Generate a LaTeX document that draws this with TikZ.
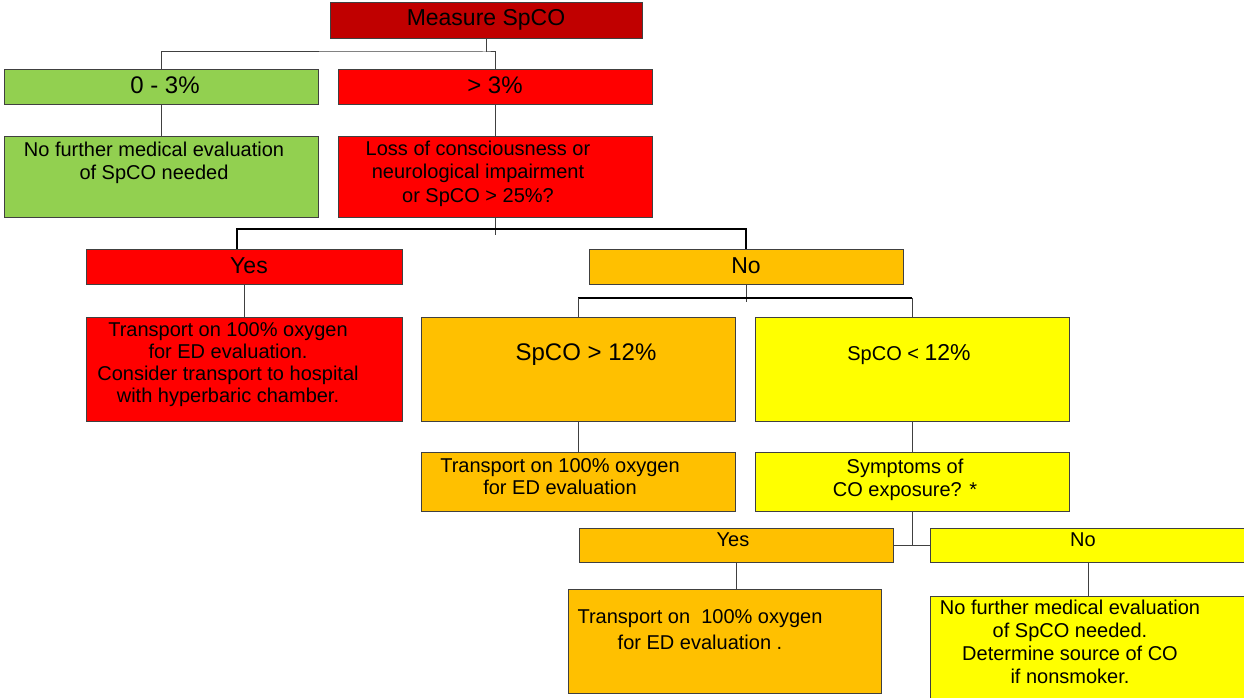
\documentclass[tikz,border=0pt]{standalone}
\usepackage{fontspec}
\setmainfont{Liberation Sans}
\definecolor{cdarkred}{RGB}{192,0,0}
\definecolor{cred}{RGB}{255,0,0}
\definecolor{cgreen}{RGB}{146,208,80}
\definecolor{corange}{RGB}{255,192,0}
\definecolor{cyellow}{RGB}{255,255,0}
\definecolor{cline}{RGB}{64,64,64}
\begin{document}
\begin{tikzpicture}[x=1pt,y=-1pt,
  box/.style={draw=cline,line width=0.8pt,inner sep=0pt,outer sep=0pt,minimum width=314pt},
  txt/.style={inner sep=0pt,outer sep=0pt,align=center,anchor=north,font=\fontsize{20}{23.5}\selectfont},
  head/.style={inner sep=0pt,outer sep=0pt,font=\fontsize{23}{27}\selectfont},
  small/.style={inner sep=0pt,outer sep=0pt,font=\fontsize{20}{24}\selectfont},
  thinline/.style={draw=cline,line width=1pt},
  thickline/.style={draw=black,line width=2pt}]
\path[use as bounding box,fill=white] (0,0) rectangle (1244,698);
% first level
\node[box,fill=cdarkred,minimum width=312pt,minimum height=36pt] (measure) at (486,20) {};
\node[head] (measuretxt) at (486,20) {Measure SpCO};
\node[box,fill=cgreen,minimum height=35pt] (low) at (161,86.5) {};
\node[head,font=\fontsize{24}{28}\selectfont] (lowtxt) at (165,85) {0 - 3\%};
\node[box,fill=cred,minimum height=35pt] (high) at (495,86.5) {};
\node[head,font=\fontsize{24}{28}\selectfont] (hightxt) at (495,85) {> 3\%};
\node[box,fill=cgreen,minimum height=81pt] (nofurther) at (161,176.5) {};
\node[txt] (nofurthertxt) at (154,142) {No further medical evaluation\\of SpCO needed};
\node[box,fill=cred,minimum height=81pt] (loss) at (495,176.5) {};
\node[txt] (losstxt) at (478,141) {Loss of consciousness or\\neurological impairment\\or SpCO > 25\%?};
% second level
\node[box,fill=cred,minimum width=316pt,minimum height=35pt] (yes1) at (244,266.5) {};
\node[head] (yes1txt) at (249,266) {Yes};
\node[box,fill=corange,minimum height=35pt] (no1) at (746,266.5) {};
\node[head] (no1txt) at (746,266) {No};
\node[box,fill=cred,minimum width=316pt,minimum height=104pt] (transport1) at (244,369) {};
\node[txt,font=\fontsize{20}{22}\selectfont] (transport1txt) at (228,323) {Transport on 100\% oxygen\\for ED evaluation.\\Consider transport to hospital\\with hyperbaric chamber.};
\node[box,fill=corange,minimum height=104pt] (high12) at (578,369) {};
\node[head,font=\fontsize{24}{28}\selectfont] (high12txt) at (586,355) {SpCO > 12\%};
\node[box,fill=cyellow,minimum height=104pt] (low12) at (912,369) {};
\node[head] (low12txt) at (909,355) {\fontsize{20}{24}\selectfont SpCO < \fontsize{23}{27}\selectfont 12\%};
\node[box,fill=corange,minimum height=59pt] (transport2) at (578,481.5) {};
\node[txt,font=\fontsize{20}{22}\selectfont] (transport2txt) at (560,459) {Transport on 100\% oxygen\\for ED evaluation};
\node[box,fill=cyellow,minimum height=59pt] (symptoms) at (912,481.5) {};
\node[txt] (symptomstxt) at (905,459) {Symptoms of\\CO exposure? *};
% third level
\node[box,fill=corange,minimum height=34pt] (yes2) at (736,545) {};
\node[small] (yes2txt) at (733,540) {Yes};
\node[box,fill=cyellow,minimum width=316pt,minimum height=34pt] (no2) at (1088,545) {};
\node[small] (no2txt) at (1083,540) {No};
\node[box,fill=corange,minimum width=313pt,minimum height=104pt] (transport3) at (724.5,641) {};
\node[txt,font=\fontsize{20}{26}\selectfont] (transport3txt) at (700,610) {Transport on\ \ 100\% oxygen\\for ED evaluation .};
\node[box,fill=cyellow,minimum width=316pt,minimum height=106pt] (nofurther2) at (1088,649) {};
\node[txt,font=\fontsize{20}{23}\selectfont] (nofurther2txt) at (1070,600) {No further medical evaluation\\of SpCO needed.\\Determine source of CO\\if nonsmoker.};
% connectors
\draw[thinline] (measure.south) -- ++(0,14) coordinate (split1);
\draw[thinline] (low.north) |- (split1) -| (high.north);
\draw[thinline] (low.south) -- (nofurther.north);
\draw[thinline] (high.south) -- (loss.north);
\draw[thinline] (loss.south) -- ++(0,18);
\path (loss.south) ++(0,12) coordinate (split2);
\draw[thickline] ([xshift=-7pt]yes1.north) |- (split2) -| (no1.north);
\draw[thinline] (yes1.south) -- (transport1.north);
\draw[thinline] (no1.south) -- ++(0,18);
\path (no1.south) ++(0,14) coordinate (split3);
\draw[thickline] (split3 -| high12.north) -- (split3 -| low12.north);
\draw[thinline] (split3 -| high12.north) -- (high12.north);
\draw[thinline] (split3 -| low12.north) -- (low12.north);
\draw[thinline] (high12.south) -- (transport2.north);
\draw[thinline] (low12.south) -- (symptoms.north);
\draw[thinline] (symptoms.south) -- (symptoms.south |- yes2.east);
\draw[thinline] (yes2.east) -- (no2.west);
\draw[thinline] (yes2.south) -- (yes2.south |- transport3.north);
\draw[thinline] (no2.south) -- (no2.south |- nofurther2.north);
\end{tikzpicture}
\end{document}
